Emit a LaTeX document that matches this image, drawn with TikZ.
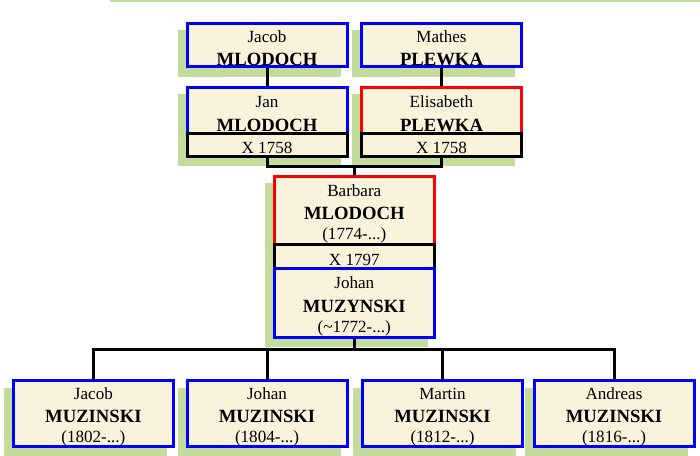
\documentclass[tikz,border=0pt]{standalone}
\usepackage{fontspec}
\setmainfont{Liberation Serif}
\usetikzlibrary{shadows}

\definecolor{cream}{RGB}{249,243,220}
\definecolor{leaf}{RGB}{195,220,155}

\newcommand{\lift}{\rule{0pt}{13.8pt}}
\newcommand{\given}[1]{{\fontsize{12.8}{17.6}\selectfont\lift #1}}
\newcommand{\surname}[1]{{\fontsize{14}{17.6}\selectfont\bfseries #1}}

\begin{document}
\begin{tikzpicture}[x=0.75pt,y=-0.75pt,
  person/.style={draw, fill=cream, line width=2.25pt, align=center,
    inner sep=0pt, minimum width=120pt,
    font=\fontsize{12.8}{17.6}\selectfont,
    general shadow={fill=leaf, draw=leaf, shadow xshift=-5.75pt, shadow yshift=-6.25pt}},
  husband/.style={person, draw=blue},
  wife/.style={person, draw=red},
  union/.style={person, draw=black},
  link/.style={line width=2.25pt}]
\useasboundingbox (0,0) rectangle (700,455);

\draw[leaf, line width=1.5pt] (110,0.7) -- (700,0.7);

% grandparents
\node[husband, minimum height=32.5pt] (jacobM) at (267,45)
  {\given{Jacob}\\\surname{MLODOCH}};
\node[husband, minimum height=32.5pt] (mathesP) at (441.5,45)
  {\given{Mathes}\\\surname{PLEWKA}};

% parents
\node[husband, minimum height=34.6pt] (janM) at (267,110.3)
  {\given{Jan}\\\surname{MLODOCH}};
\node[union, minimum height=17.2pt] (janX) at (267,144.8) {\lift X 1758};
\node[wife, minimum height=34.6pt] (elisP) at (441.5,110.3)
  {\given{Elisabeth}\\\surname{PLEWKA}};
\node[union, minimum height=17.2pt] (elisX) at (441.5,144.8) {\lift X 1758};

% couple
\node[wife, minimum height=51.2pt] (barbara) at (354.3,210.6)
  {\given{Barbara}\\\surname{MLODOCH}\\[-2.6pt](1774-...)};
\node[union, minimum height=18pt] (wedX) at (354.3,256.7) {\lift X 1797};
\node[husband, minimum height=51.6pt] (johanM) at (354.3,303.1)
  {\given{Johan}\\\surname{MUZYNSKI}\\[-2.6pt](\textasciitilde1772-...)};

% children
\node[husband, minimum height=49.5pt] (jacobZ) at (93.4,413.8)
  {\given{Jacob}\\\surname{MUZINSKI}\\[-2.6pt](1802-...)};
\node[husband, minimum height=49.5pt] (johanZ) at (267,413.8)
  {\given{Johan}\\\surname{MUZINSKI}\\[-2.6pt](1804-...)};
\node[husband, minimum height=49.5pt] (martinZ) at (442.5,413.8)
  {\given{Martin}\\\surname{MUZINSKI}\\[-2.6pt](1812-...)};
\node[husband, minimum height=49.5pt] (andreasZ) at (614,413.8)
  {\given{Andreas}\\\surname{MUZINSKI}\\[-2.6pt](1816-...)};

\draw[link] (jacobM) -- (janM);
\draw[link] (mathesP) -- (elisP);

\coordinate (upper) at (354.3,166);
\draw[link] (janX.south) |- (upper) -| (elisX.south);
\draw[link] (upper) -- (barbara.north);

\coordinate (lower) at (354.3,349);
\draw[link] (johanM.south) -- (lower);
\draw[link] (jacobZ.north) |- (lower) -| (andreasZ.north);
\foreach \kid in {johanZ,martinZ}
  \draw[link] (\kid.north) -- (\kid.north |- lower);

\end{tikzpicture}
\end{document}
